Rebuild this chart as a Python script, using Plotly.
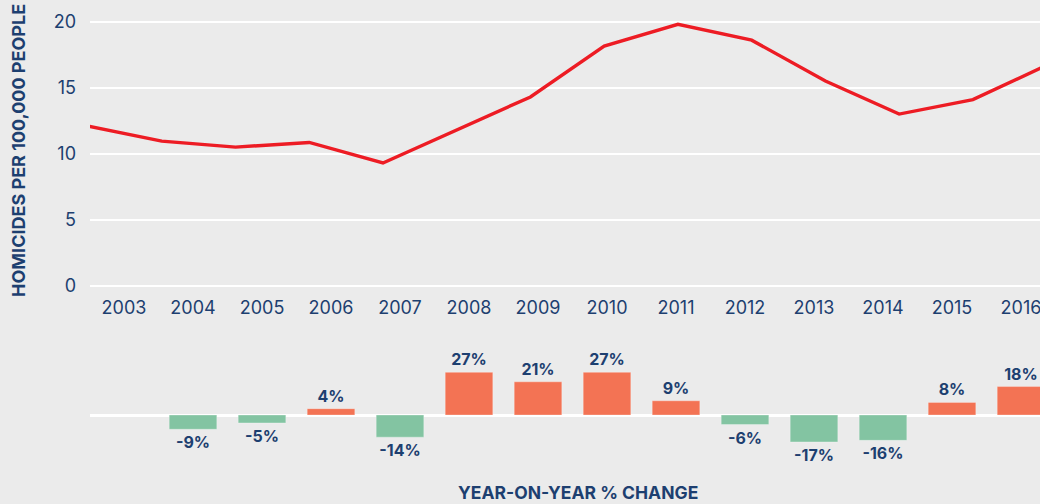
import plotly.graph_objects as go

years = [2003, 2004, 2005, 2006, 2007, 2008, 2009, 2010, 2011, 2012, 2013, 2014, 2015, 2016]
homicide_rate = [12.1, 10.95, 10.5, 10.85, 9.3, 11.8, 14.3, 18.15, 19.8, 18.6, 15.5, 13.0, 14.1, 16.7]
yoy_change = [None, -9, -5, 4, -14, 27, 21, 27, 9, -6, -17, -16, 8, 18]
year_labels = [str(y) for y in years]

NAVY = "#1d3f70"
BG = "#ebebeb"
RED = "#ed1c24"
ORANGE = "#f37354"
GREEN = "#83c4a2"
FONT = "Inter"

W, H = 1040, 504
def py(p):
    return 1 - p / H

x_left = 90 / W

fig = go.Figure()

# invisible carrier trace so the year-label axis is drawn
fig.add_trace(go.Scatter(
    x=years, y=[None] * len(years), mode="lines",
    xaxis="x", yaxis="y", hoverinfo="skip", showlegend=False,
))

fig.add_trace(go.Scatter(
    x=years, y=homicide_rate, mode="lines",
    line=dict(color=RED, width=3.4),
    xaxis="x2", yaxis="y", hoverinfo="skip", showlegend=False,
))

bar_colors = [ORANGE if (v is not None and v >= 0) else GREEN for v in yoy_change]
bar_text = ["" if v is None else f"{v}%" for v in yoy_change]
fig.add_trace(go.Bar(
    x=years, y=yoy_change, width=0.69,
    marker=dict(color=bar_colors, line=dict(width=1, color="rgba(255,255,255,0.3)")),
    text=bar_text, textposition="outside", cliponaxis=False,
    textfont=dict(family=FONT, size=16, color=NAVY, weight="bold"),
    xaxis="x3", yaxis="y2", hoverinfo="skip", showlegend=False,
))

label_range = [2002.5072, 2016.2753]
line_range = [2003.027, 2015.91]

fig.update_layout(
    template="none",
    width=W, height=H, autosize=False,
    margin=dict(l=0, r=0, t=0, b=0, pad=0),
    paper_bgcolor=BG, plot_bgcolor=BG,
    font=dict(family=FONT, color=NAVY),
    showlegend=False,
    xaxis=dict(
        domain=[x_left, 1], range=label_range, anchor="y", type="linear",
        tickmode="array", tickvals=years, ticktext=year_labels,
        showgrid=False, zeroline=False, showline=False, ticks="",
        tickfont=dict(size=18, color=NAVY, family=FONT),
        ticklabelstandoff=9, ticklabeloverflow="allow",
        fixedrange=True, automargin=False,
    ),
    xaxis2=dict(
        domain=[x_left, 1], range=line_range, overlaying="x", anchor="y", type="linear",
        visible=False, fixedrange=True, automargin=False,
    ),
    xaxis3=dict(
        domain=[x_left, 1], range=label_range, anchor="y2", type="linear",
        visible=False, fixedrange=True, automargin=False,
    ),
    yaxis=dict(
        domain=[py(285.7), py(15.1)], range=[0, 20.5],
        tickvals=[0, 5, 10, 15, 20], showgrid=True, gridcolor="white", gridwidth=2,
        zeroline=True, zerolinecolor="white", zerolinewidth=2,
        showline=False, ticks="", tickfont=dict(size=18, color=NAVY, family=FONT),
        ticklabelstandoff=13, anchor="x", fixedrange=True, automargin=False,
    ),
    yaxis2=dict(
        domain=[py(449.8), py(367.6)], range=[-22, 30],
        showgrid=False, showticklabels=False, ticks="",
        zeroline=True, zerolinecolor="white", zerolinewidth=2.5,
        showline=False, anchor="x3", fixedrange=True, automargin=False,
    ),
    annotations=[
        dict(text="HOMICIDES PER 100,000 PEOPLE", xref="paper", yref="paper",
             x=18 / W, y=py(151), textangle=-90, showarrow=False,
             xanchor="center", yanchor="middle",
             font=dict(family=FONT, size=18, color=NAVY, weight="bold")),
        dict(text="YEAR-ON-YEAR % CHANGE", xref="paper", yref="paper",
             x=578 / W, y=py(492), showarrow=False,
             xanchor="center", yanchor="middle",
             font=dict(family=FONT, size=17.5, color=NAVY, weight="bold")),
    ],
)

fig.write_html(
    "out.html",
    config={"displayModeBar": False},
    post_script="document.body.style.margin='0';document.body.style.overflow='hidden';",
)
